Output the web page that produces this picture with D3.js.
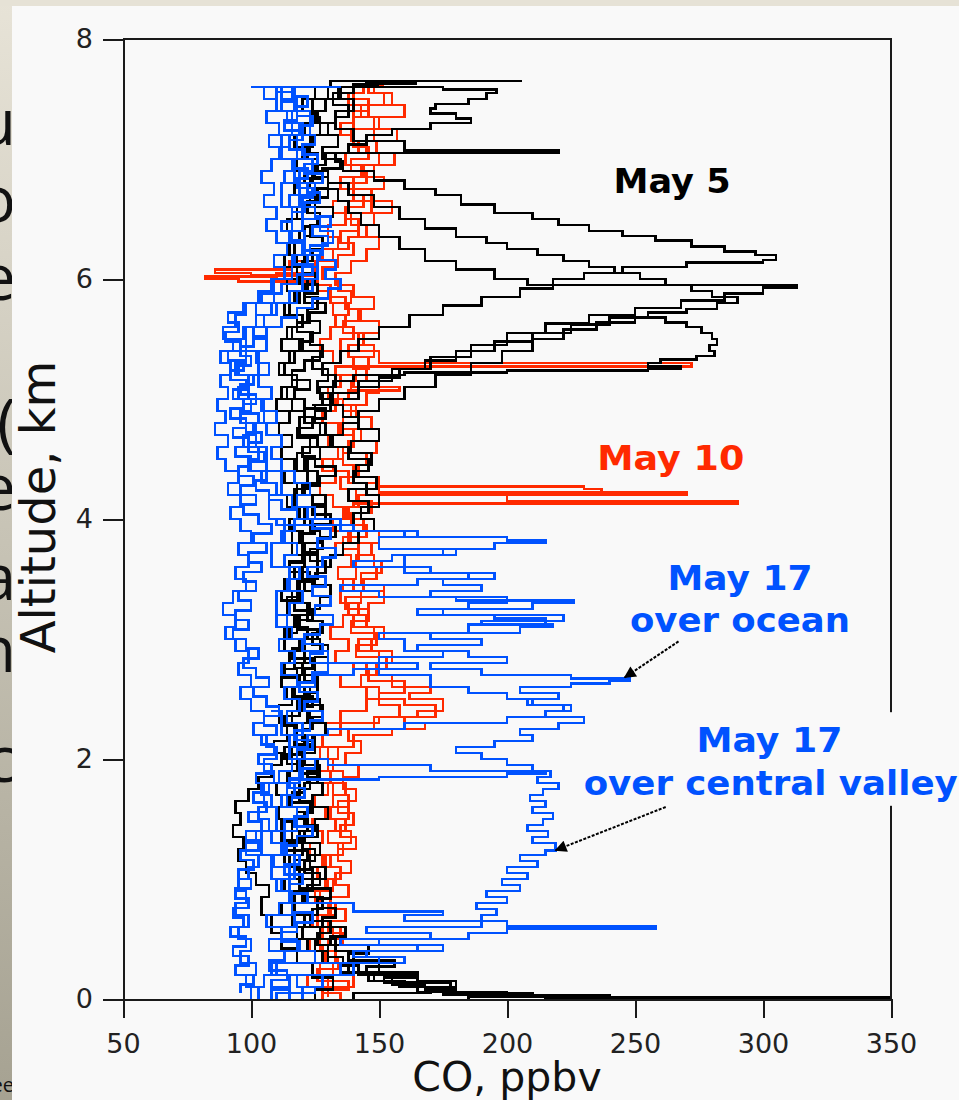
<!DOCTYPE html>
<html>
<head>
<meta charset="utf-8">
<script src="https://cdn.jsdelivr.net/npm/d3@7"></script>
<style>
  body { margin: 0; background: #e6e2d6; }
  svg { display: block; }
  .axis path, .axis line { stroke: #1a1a1a; stroke-width: 2; shape-rendering: crispEdges; }
  .axis text { font-family: "DejaVu Sans", sans-serif; font-size: 27px; fill: #222; }
  .profile { fill: none; stroke-width: 2.6; stroke-linejoin: miter; shape-rendering: crispEdges; }
  .note { font-family: "DejaVu Sans", sans-serif; font-weight: bold; font-size: 34px; }
</style>
</head>
<body>
<svg width="959" height="1100"></svg>
<script>
// ---- data: CO profiles, each point is [altitude km, CO ppbv] ----
var xTicks = [50, 100, 150, 200, 250, 300, 350];
var yTicks = [0, 2, 4, 6, 8];

// May 5 (black)
var may5_a = [[0.00,350],[0.015,240],[0.03,190],[0.06,172],[0.1,160],[0.15,146],[0.22,135],[0.3,128],[0.4,122],[0.5,118],[0.6,123],[0.7,117],[0.8,121],[0.9,115],[1.0,119],[1.1,113],[1.2,117],[1.3,112],[1.4,116],[1.5,111],[1.6,115],[1.7,110],[1.8,114],[1.9,118],[2.0,113],[2.1,117],[2.2,112],[2.3,116],[2.4,120],[2.5,114],[2.6,118],[2.7,113],[2.8,117],[2.9,121],[3.0,115],[3.1,119],[3.2,114],[3.3,118],[3.4,113],[3.5,117],[3.6,121],[3.7,116],[3.8,120],[3.9,115],[4.0,119],[4.1,114],[4.2,118],[4.3,113],[4.4,117],[4.5,112],[4.6,116],[4.7,111],[4.8,115],[4.9,110],[5.0,114],[5.1,118],[5.2,113],[5.3,117],[5.4,112],[5.5,116],[5.6,120],[5.7,115],[5.8,119],[5.9,114],[6.0,118],[6.1,113],[6.2,117],[6.3,121],[6.4,116],[6.5,120],[6.6,115],[6.7,119],[6.8,124],[6.9,118],[7.0,122],[7.1,117],[7.2,121],[7.3,126],[7.4,120],[7.5,125],[7.6,131],[7.65,136],[7.65,206]];
var may5_b = [[0.0,237],[0.02,210],[0.05,180],[0.08,168],[0.12,155],[0.2,142],[0.28,136],[0.35,130],[0.45,126],[0.55,131],[0.65,124],[0.75,128],[0.85,122],[0.95,127],[1.05,121],[1.15,125],[1.25,120],[1.35,126],[1.45,121],[1.55,124],[1.65,119],[1.75,123],[1.85,127],[1.95,121],[2.05,125],[2.15,120],[2.25,124],[2.35,128],[2.45,122],[2.55,126],[2.65,121],[2.75,125],[2.85,130],[2.95,124],[3.05,128],[3.15,122],[3.25,127],[3.35,131],[3.45,125],[3.55,129],[3.65,123],[3.75,128],[3.85,133],[3.95,140],[4.05,146],[4.15,138],[4.25,149],[4.35,141],[4.45,147],[4.55,139],[4.65,150],[4.75,142],[4.85,136],[4.95,131],[5.05,126],[5.15,130],[5.25,124],[5.35,128],[5.45,123],[5.55,127],[5.65,122],[5.75,126],[5.85,121],[5.95,125],[6.05,120],[6.15,124],[6.25,128],[6.35,123],[6.45,127],[6.55,122],[6.65,126],[6.75,130],[6.85,125],[6.95,129],[7.05,131],[7.05,220],[7.07,160],[7.15,140],[7.25,133],[7.35,138],[7.45,132],[7.55,140],[7.62,150]];
var may5_c = [[0.0,125],[0.08,132],[0.18,124],[0.3,118],[0.42,112],[0.55,108],[0.7,104],[0.85,107],[0.95,102],[1.05,98],[1.15,95],[1.25,97],[1.35,93],[1.45,96],[1.55,94],[1.65,99],[1.75,103],[1.85,108],[1.95,112],[2.05,109],[2.15,114],[2.3,111],[2.45,116],[2.6,112],[2.75,117],[2.9,113],[3.05,118],[3.2,114],[3.35,119],[3.5,115],[3.65,120],[3.8,116],[3.95,121],[4.1,117],[4.25,122],[4.4,118],[4.55,123],[4.7,119],[4.85,125],[4.95,132],[5.05,142],[5.15,155],[5.25,170],[5.35,186],[5.45,200],[5.55,215],[5.63,232],[5.7,250],[5.76,268],[5.82,285],[5.88,300],[5.93,313],[5.95,300],[5.95,208],[6.0,195],[6.08,180],[6.15,168],[6.25,158],[6.35,150],[6.45,143],[6.55,138],[6.65,134],[6.75,130],[6.9,126],[7.05,123],[7.2,127],[7.35,124],[7.5,130],[7.6,135]];
var may5_d = [[7.62,140],[7.6,175],[7.58,196],[7.55,192],[7.5,185],[7.46,172],[7.42,170],[7.38,180],[7.34,186],[7.3,170],[7.25,155],[7.2,145],[7.12,138],[7.05,133],[6.98,136],[6.9,148],[6.82,160],[6.75,172],[6.7,182],[6.62,195],[6.55,210],[6.5,220],[6.45,232],[6.4,245],[6.36,258],[6.32,272],[6.27,285],[6.23,297],[6.2,305],[6.16,300],[6.14,270],[6.1,245],[6.05,230],[6.0,218],[5.92,205],[5.85,190],[5.78,175],[5.7,162],[5.6,150],[5.5,142],[5.4,135],[5.3,128],[5.2,133],[5.1,127],[5.0,131],[4.9,125],[4.8,129],[4.7,123],[4.6,127],[4.5,121],[4.4,126],[4.3,120],[4.2,124],[4.1,129],[4.0,123],[3.9,127],[3.8,121],[3.7,126],[3.6,120],[3.5,124],[3.4,119],[3.3,123],[3.2,118],[3.1,122],[3.0,127],[2.9,121],[2.8,125],[2.7,119],[2.6,123],[2.5,118],[2.4,122],[2.3,117],[2.2,121],[2.1,116],[2.0,120],[1.9,115],[1.8,119],[1.7,114],[1.6,118],[1.5,122],[1.4,116],[1.3,120],[1.2,115],[1.1,119],[1.0,113],[0.9,117],[0.8,112],[0.7,116],[0.6,120],[0.5,125],[0.4,130],[0.3,138],[0.22,148],[0.15,158],[0.1,165],[0.06,175],[0.04,185],[0.02,215],[0.01,350]];
var may5_e = [[4.4,122],[4.5,127],[4.6,131],[4.7,136],[4.8,142],[4.9,150],[5.0,160],[5.1,172],[5.2,186],[5.3,198],[5.4,210],[5.5,222],[5.58,235],[5.64,250],[5.68,262],[5.64,270],[5.6,276],[5.55,280],[5.5,282],[5.45,279],[5.4,281],[5.36,274],[5.33,260],[5.3,255],[5.27,268],[5.25,255],[5.24,200],[5.22,160],[5.2,140],[5.15,132],[5.05,128],[4.95,124]];
var may5_f = [[6.9,130],[6.8,138],[6.7,148],[6.6,158],[6.5,168],[6.42,180],[6.35,192],[6.3,200],[6.25,212],[6.2,222],[6.15,232],[6.1,242],[6.05,252],[6.0,262],[5.95,272],[5.9,280],[5.85,290],[5.8,282],[5.75,270],[5.72,255],[5.68,240],[5.62,225],[5.55,210],[5.48,195],[5.4,180],[5.32,168],[5.25,158],[5.18,150],[5.1,142],[5.0,136]];
var may5_g = [[0.0,140],[0.05,170],[0.1,180],[0.15,165],[0.2,150],[0.3,140],[0.4,133],[0.5,127],[0.6,121],[0.7,126],[0.8,120],[0.9,124],[1.0,129],[1.1,123],[1.2,127],[1.3,121],[1.4,125],[1.5,130],[1.6,124],[1.7,128],[1.8,122],[1.9,126],[2.0,120],[2.1,125],[2.2,129],[2.3,123],[2.4,127],[2.5,121],[2.6,126],[2.7,120],[2.8,115],[2.9,119],[3.0,113],[3.1,117],[3.2,122],[3.3,116],[3.4,121],[3.5,126],[3.6,131],[3.7,136],[3.8,142],[3.9,148],[4.0,143],[4.1,150],[4.2,145],[4.3,140],[4.4,146],[4.5,138],[4.6,132],[4.7,127],[4.8,121],[4.9,116],[5.0,112],[5.1,116],[5.2,111],[5.3,115],[5.4,120],[5.5,114],[5.6,118],[5.7,113],[5.8,117],[5.9,122],[6.0,116],[6.1,121],[6.2,115],[6.3,119],[6.4,114],[6.5,118],[6.6,123],[6.7,117],[6.8,121],[6.9,126],[7.0,120],[7.1,124],[7.2,130],[7.3,125],[7.4,129],[7.5,135],[7.6,145],[7.63,165]];
var may5_h = [[0.0,185],[0.03,200],[0.06,170],[0.1,178],[0.14,152],[0.18,165],[0.22,145],[0.27,156],[0.32,138],[0.38,146],[0.45,131],[0.52,137],[0.6,128],[0.68,133],[0.76,126],[0.84,131],[0.92,119],[1.0,124],[1.08,117],[1.16,122],[1.24,114],[1.32,119],[1.4,112],[1.48,118],[1.56,123],[1.64,116],[1.72,121],[1.8,126],[1.88,119],[1.96,114],[2.04,119],[2.12,124],[2.2,118],[2.28,113],[2.36,119],[2.44,124],[2.52,117],[2.6,112],[2.68,118],[2.76,124],[2.84,116],[2.92,121],[3.0,126],[3.08,119],[3.16,124],[3.24,117],[3.32,112],[3.4,118],[3.48,123],[3.56,115],[3.64,121],[3.72,126],[3.8,119],[3.88,125],[3.96,131],[4.04,124],[4.12,129],[4.2,121],[4.28,127],[4.36,133],[4.44,125],[4.52,120],[4.6,126],[4.68,118],[4.76,124],[4.84,129],[4.92,121],[5.0,117],[5.08,123],[5.16,116],[5.24,121],[5.32,127],[5.4,119],[5.48,124],[5.56,118],[5.64,123],[5.72,129],[5.8,121],[5.88,126],[5.96,119],[6.04,124],[6.12,118],[6.2,123],[6.28,128],[6.36,121],[6.44,126],[6.52,132],[6.6,125],[6.68,130],[6.76,123],[6.84,128],[6.92,135],[7.0,128],[7.1,134],[7.2,127],[7.3,133],[7.4,140],[7.5,134],[7.6,141]];

// May 10 (red)
var may10_a = [[0.0,135],[0.05,128],[0.1,140],[0.2,132],[0.3,138],[0.4,130],[0.5,135],[0.6,128],[0.7,133],[0.8,127],[0.9,132],[1.0,126],[1.1,131],[1.2,136],[1.3,130],[1.4,137],[1.5,131],[1.6,138],[1.7,132],[1.8,136],[1.9,130],[2.0,134],[2.1,128],[2.2,135],[2.3,150],[2.35,165],[2.4,172],[2.45,160],[2.5,145],[2.6,135],[2.7,140],[2.8,133],[2.9,138],[3.0,131],[3.1,136],[3.2,142],[3.3,135],[3.4,140],[3.5,134],[3.6,139],[3.7,133],[3.8,138],[3.9,132],[4.0,137],[4.1,140],[4.13,290],[4.15,200],[4.2,270],[4.22,150],[4.3,138],[4.4,132],[4.5,136],[4.6,130],[4.7,134],[4.8,128],[4.9,133],[5.0,138],[5.07,158],[5.1,140],[5.2,133],[5.27,272],[5.3,150],[5.4,135],[5.5,140],[5.6,133],[5.7,138],[5.8,131],[5.9,126],[5.98,95],[6.0,82],[6.02,110],[6.05,125],[6.15,132],[6.25,138],[6.35,145],[6.45,139],[6.55,147],[6.65,140],[6.75,152],[6.85,144],[6.95,150],[7.05,142],[7.15,148],[7.25,140],[7.35,146],[7.45,138],[7.55,144],[7.6,152]];
var may10_b = [[0.05,125],[0.1,130],[0.2,124],[0.3,129],[0.4,123],[0.5,128],[0.6,124],[0.7,130],[0.8,125],[0.9,129],[1.0,124],[1.1,128],[1.2,123],[1.3,128],[1.4,124],[1.5,129],[1.6,125],[1.7,130],[1.8,126],[1.9,132],[2.0,127],[2.1,140],[2.2,155],[2.25,168],[2.3,160],[2.35,172],[2.4,175],[2.5,162],[2.55,170],[2.6,155],[2.7,145],[2.8,150],[2.9,142],[3.0,148],[3.1,140],[3.2,146],[3.3,152],[3.4,144],[3.5,149],[3.6,141],[3.7,147],[3.8,139],[3.9,144],[4.0,136],[4.1,142],[4.2,237],[4.25,230],[4.27,150],[4.35,140],[4.45,145],[4.55,138],[4.65,143],[4.75,136],[4.85,141],[4.95,134],[5.05,139],[5.15,145],[5.25,140],[5.35,148],[5.45,142],[5.55,150],[5.65,143],[5.75,137],[5.85,131],[5.95,125],[6.03,100],[6.05,86],[6.08,115],[6.15,128],[6.25,134],[6.35,130],[6.45,137],[6.55,132],[6.65,140],[6.75,135],[6.85,143],[6.95,137],[7.05,145],[7.15,139],[7.25,150],[7.35,143],[7.45,155],[7.55,148],[7.62,152]];
var may10_c = [[0.0,128],[0.1,122],[0.2,127],[0.3,133],[0.4,127],[0.5,132],[0.6,126],[0.7,131],[0.8,125],[0.9,130],[1.0,135],[1.1,129],[1.2,134],[1.3,139],[1.4,133],[1.5,138],[1.6,132],[1.7,137],[1.8,131],[1.9,125],[2.0,130],[2.1,124],[2.2,129],[2.3,135],[2.4,145],[2.5,150],[2.6,143],[2.7,149],[2.8,155],[2.9,147],[3.0,152],[3.1,145],[3.2,138],[3.3,143],[3.4,136],[3.5,141],[3.6,148],[3.7,142],[3.8,150],[3.9,144],[4.0,138],[4.1,132],[4.2,127],[4.3,133],[4.4,128],[4.5,134],[4.6,140],[4.7,135],[4.8,142],[4.9,136],[5.0,130],[5.1,135],[5.2,128],[5.3,132],[5.4,127],[5.5,131],[5.6,137],[5.7,132],[5.8,139],[5.9,134],[6.0,128],[6.1,134],[6.2,140],[6.3,135],[6.4,142],[6.5,137],[6.6,144],[6.7,138],[6.8,145],[6.9,139],[7.0,146],[7.1,140],[7.2,135],[7.3,140],[7.4,146],[7.5,140],[7.6,135]];
var may10_d = [[0.02,130],[0.08,138],[0.15,126],[0.25,134],[0.35,128],[0.45,136],[0.55,130],[0.65,137],[0.75,131],[0.85,138],[0.95,133],[1.05,139],[1.15,134],[1.25,141],[1.35,135],[1.45,140],[1.55,134],[1.65,141],[1.75,136],[1.85,142],[1.95,137],[2.05,143],[2.15,138],[2.25,148],[2.35,158],[2.45,150],[2.55,160],[2.65,146],[2.75,153],[2.85,141],[2.95,149],[3.05,139],[3.15,146],[3.25,137],[3.35,152],[3.45,143],[3.55,151],[3.65,142],[3.75,136],[3.85,145],[3.95,139],[4.05,147],[4.15,141],[4.25,135],[4.35,142],[4.45,136],[4.55,149],[4.65,140],[4.75,147],[4.85,139],[4.95,145],[5.05,150],[5.15,141],[5.25,146],[5.35,138],[5.45,144],[5.55,136],[5.65,142],[5.75,148],[5.85,140],[5.95,133],[6.05,139],[6.15,145],[6.25,150],[6.35,142],[6.45,148],[6.55,155],[6.65,147],[6.75,140],[6.85,148],[6.95,156],[7.05,149],[7.15,157],[7.25,148],[7.35,160],[7.45,152],[7.55,146],[7.6,138]];

// May 17 (blue)
var may17_a = [[0.0,103],[0.1,98],[0.2,102],[0.3,96],[0.4,100],[0.5,95],[0.6,99],[0.7,94],[0.8,98],[0.9,95],[1.0,99],[1.1,103],[1.2,98],[1.3,102],[1.4,107],[1.5,103],[1.6,108],[1.7,104],[1.8,109],[1.9,105],[2.0,110],[2.1,106],[2.2,101],[2.3,105],[2.4,100],[2.5,96],[2.6,100],[2.7,95],[2.8,99],[2.9,94],[3.0,90],[3.1,94],[3.2,89],[3.3,93],[3.4,98],[3.5,94],[3.6,99],[3.7,95],[3.8,100],[3.9,96],[4.0,92],[4.1,96],[4.2,91],[4.3,95],[4.4,90],[4.5,87],[4.6,91],[4.7,86],[4.8,90],[4.9,87],[5.0,91],[5.1,88],[5.2,92],[5.3,88],[5.4,93],[5.5,89],[5.6,94],[5.7,98],[5.8,103],[5.9,108],[6.0,113],[6.1,109],[6.2,114],[6.3,110],[6.4,106],[6.5,110],[6.6,105],[6.7,109],[6.8,104],[6.9,108],[7.0,112],[7.1,107],[7.2,111],[7.3,106],[7.4,110],[7.5,105],[7.6,100],[7.6,135]];
var may17_b = [[0.0,110],[0.05,125],[0.1,118],[0.2,108],[0.3,113],[0.4,107],[0.5,112],[0.6,106],[0.7,111],[0.8,116],[0.9,110],[1.0,115],[1.1,109],[1.2,114],[1.3,108],[1.4,113],[1.5,118],[1.6,112],[1.7,117],[1.8,111],[1.9,116],[2.0,121],[2.1,115],[2.2,120],[2.3,114],[2.4,119],[2.5,113],[2.6,118],[2.7,112],[2.8,117],[2.9,111],[3.0,116],[3.1,110],[3.2,115],[3.3,120],[3.4,114],[3.5,119],[3.6,113],[3.7,118],[3.8,112],[3.9,117],[4.0,122],[4.1,116],[4.2,110],[4.3,104],[4.4,99],[4.5,103],[4.6,97],[4.7,101],[4.8,96],[4.9,100],[5.0,95],[5.1,99],[5.2,94],[5.3,98],[5.4,93],[5.5,97],[5.6,102],[5.7,108],[5.8,115],[5.9,120],[6.0,126],[6.1,122],[6.2,128],[6.3,132],[6.4,127],[6.5,120],[6.6,115],[6.7,119],[6.8,113],[6.9,117],[7.0,111],[7.1,115],[7.2,120],[7.3,114],[7.4,118],[7.5,112],[7.6,117]];
var may17_ocean = [[0.0,120],[0.1,128],[0.2,135],[0.3,125],[0.4,118],[0.5,112],[0.6,117],[0.7,111],[0.8,116],[0.9,112],[1.0,117],[1.2,113],[1.4,118],[1.6,114],[1.8,119],[2.0,115],[2.1,122],[2.2,130],[2.25,160],[2.3,200],[2.35,215],[2.4,222],[2.45,208],[2.5,220],[2.55,205],[2.6,225],[2.63,240],[2.65,248],[2.67,225],[2.7,190],[2.75,170],[2.8,200],[2.85,185],[2.9,160],[3.0,150],[3.05,205],[3.1,218],[3.12,190],[3.15,222],[3.2,175],[3.25,210],[3.3,226],[3.32,180],[3.35,150],[3.4,135],[3.45,165],[3.5,185],[3.55,160],[3.6,140],[3.65,155],[3.7,175],[3.75,195],[3.8,215],[3.82,200],[3.85,160],[3.9,135],[4.0,125],[4.1,118],[4.2,123],[4.3,117],[4.4,112],[4.5,108],[4.6,112],[4.7,106],[4.8,110],[4.9,104],[5.0,108],[5.1,103],[5.2,107],[5.3,102],[5.4,106],[5.5,101],[5.6,105],[5.7,110],[5.8,118],[5.9,124],[6.0,120],[6.1,126],[6.2,120],[6.3,115],[6.4,120],[6.5,125],[6.6,120],[6.7,125],[6.8,119],[6.9,124],[7.0,118],[7.2,123],[7.4,117],[7.6,125]];
var may17_valley = [[0.0,108],[0.1,115],[0.2,140],[0.3,160],[0.35,145],[0.4,175],[0.45,150],[0.5,185],[0.55,200],[0.59,258],[0.61,200],[0.65,190],[0.7,196],[0.75,188],[0.8,200],[0.85,192],[0.9,205],[0.95,198],[1.0,208],[1.05,200],[1.1,212],[1.15,205],[1.2,215],[1.24,219],[1.3,210],[1.35,216],[1.4,208],[1.45,214],[1.5,218],[1.55,210],[1.6,215],[1.65,209],[1.7,214],[1.75,220],[1.8,212],[1.85,217],[1.9,210],[1.95,200],[2.0,190],[2.05,180],[2.1,195],[2.15,210],[2.2,205],[2.25,220],[2.3,230],[2.35,215],[2.4,225],[2.45,210],[2.5,200],[2.55,185],[2.6,170],[2.7,150],[2.8,130],[2.9,120],[3.0,114],[3.2,110],[3.4,115],[3.6,108],[3.8,113],[4.0,107],[4.2,112],[4.4,106],[4.6,102],[4.8,105],[5.0,99],[5.2,103],[5.4,98],[5.6,102],[5.8,109],[6.0,116],[6.2,121],[6.4,116],[6.6,112],[6.8,117],[7.0,112],[7.2,116],[7.4,110],[7.6,113]];
var may17_e = [[4.0,110],[3.95,140],[3.9,165],[3.85,150],[3.75,180],[3.7,160],[3.6,170],[3.55,195],[3.5,175],[3.45,190],[3.4,170],[3.35,200],[3.3,185],[3.25,165],[3.2,195],[3.17,215],[3.12,185],[3.05,170],[3.0,190],[2.95,165],[2.9,175],[2.85,150],[2.8,165],[2.75,140],[2.7,125],[2.6,118]];
var may17_f = [[0.0,100],[0.1,105],[0.2,110],[0.3,150],[0.35,140],[0.4,165],[0.45,135],[0.5,170],[0.55,145],[0.6,190],[0.65,160],[0.7,175],[0.73,140],[0.8,115],[1.0,108],[1.2,104],[1.4,110],[1.6,105],[1.8,115],[1.83,150],[1.85,200],[1.88,215],[1.9,170],[1.95,130],[2.0,118],[2.2,112],[2.4,108]];
var may17_g = [[0.05,96],[0.12,101],[0.2,94],[0.28,99],[0.36,93],[0.44,98],[0.52,92],[0.6,97],[0.68,93],[0.76,99],[0.84,94],[0.92,100],[1.0,95],[1.08,101],[1.16,96],[1.24,103],[1.32,98],[1.4,104],[1.48,99],[1.56,106],[1.64,101],[1.72,107],[1.8,102],[1.88,108],[1.96,103],[2.04,109],[2.12,104],[2.2,110],[2.28,105],[2.36,111],[2.44,106],[2.52,101],[2.6,107],[2.68,102],[2.76,97],[2.84,103],[2.92,98],[3.0,93],[3.08,99],[3.16,94],[3.24,100],[3.32,95],[3.4,102],[3.48,97],[3.56,104],[3.64,99],[3.72,106],[3.8,101],[3.88,108],[3.96,103],[4.04,97],[4.12,102],[4.2,96],[4.28,101],[4.36,95],[4.44,100],[4.52,94],[4.6,99],[4.68,93],[4.76,98],[4.84,92],[4.92,97],[5.0,93],[5.08,98],[5.16,92],[5.24,97],[5.32,91],[5.4,96],[5.48,90],[5.56,95],[5.64,91],[5.72,97],[5.8,104],[5.88,112],[5.96,118],[6.04,124],[6.12,117],[6.2,123],[6.28,130],[6.36,124],[6.44,131],[6.52,125],[6.6,119],[6.68,124],[6.76,118],[6.84,122],[6.92,116],[7.0,121],[7.08,115],[7.16,120],[7.24,113],[7.32,118],[7.4,112],[7.48,117],[7.56,110],[7.6,105]];
var may17_h = [[0.0,115],[0.08,108],[0.16,114],[0.24,107],[0.32,113],[0.4,119],[0.48,112],[0.56,118],[0.64,124],[0.72,116],[0.8,122],[0.88,115],[0.96,120],[1.04,113],[1.12,119],[1.2,112],[1.28,118],[1.36,124],[1.44,117],[1.52,122],[1.6,116],[1.68,121],[1.76,115],[1.84,120],[1.92,125],[2.0,118],[2.08,124],[2.16,117],[2.24,123],[2.32,128],[2.4,121],[2.48,126],[2.56,119],[2.64,124],[2.72,130],[2.8,123],[2.88,128],[2.96,121],[3.04,127],[3.12,132],[3.2,125],[3.28,131],[3.36,124],[3.44,129],[3.52,122],[3.6,128],[3.68,133],[3.76,126],[3.84,131],[3.92,124],[4.0,118],[4.08,112],[4.16,107],[4.24,102],[4.32,106],[4.4,100],[4.48,105],[4.56,99],[4.64,104],[4.72,98],[4.8,103],[4.88,97],[4.96,102],[5.04,96],[5.12,101],[5.2,95],[5.28,100],[5.36,96],[5.44,101],[5.52,106],[5.6,112],[5.68,118],[5.76,124],[5.84,130],[5.92,135],[6.0,129],[6.08,133],[6.16,127],[6.24,121],[6.32,116],[6.4,112],[6.48,116],[6.56,121],[6.64,127],[6.72,122],[6.8,128],[6.88,121],[6.96,126],[7.04,120],[7.12,125],[7.2,119],[7.28,124],[7.36,118],[7.44,122],[7.52,116],[7.6,120]];

var series = [
  {date: 'May 10', color: '#ff2a00', profiles: [may10_a, may10_b, may10_c, may10_d]},
  {date: 'May 5', color: '#000000', profiles: [may5_a, may5_b, may5_c, may5_d, may5_e, may5_f, may5_g, may5_h]},
  {date: 'May 17', color: '#0052ff', profiles: [may17_a, may17_b, may17_ocean, may17_valley, may17_e, may17_f, may17_g, may17_h]}
];

// slide text that peeks out on the left edge
var slideLetters = ['u', 'o', 'e', '(', 'e', 'a', 'n', 'c'];

var svg = d3.select('svg');
var margin = {t: 39, r: 68, b: 101, l: 123};
var width = 959, height = 1100;

var x = d3.scaleLinear().domain([50, 350]).range([margin.l, width - margin.r]);
var y = d3.scaleLinear().domain([0, 8]).range([height - margin.b, margin.t]);

// slide background + white panel
var defs = svg.append('defs');
var grad = defs.append('linearGradient').attr('id', 'slide')
    .attr('x1', 0).attr('y1', 0).attr('x2', 0).attr('y2', 1);
grad.append('stop').attr('offset', '0%').attr('stop-color', '#e7e3d7');
grad.append('stop').attr('offset', '100%').attr('stop-color', '#a6a292');
svg.append('rect').attr('width', width).attr('height', height).attr('fill', 'url(#slide)');
svg.append('rect').attr('width', width).attr('height', 6).attr('fill', '#e6e2d6');

defs.append('clipPath').attr('id', 'strip')
  .append('rect').attr('width', 12).attr('height', height);
var strip = svg.append('g').attr('clip-path', 'url(#strip)')
    .style('font-family', '"Open Sans", sans-serif').style('font-size', '64px').attr('fill', '#111');
var letterY = [145, 222, 300, 445, 510, 600, 672, 782];
strip.selectAll('text').data(slideLetters).enter().append('text')
    .attr('x', 16).attr('y', (d, i) => letterY[i]).attr('text-anchor', 'end').text(d => d);
strip.append('text').attr('x', 14).attr('y', 1092).attr('text-anchor', 'end')
    .style('font-size', '20px').text('ee');

svg.append('rect').attr('x', 12).attr('y', 6).attr('width', width - 12).attr('height', height - 6)
    .attr('fill', '#f9f9f9');

// profiles, drawn as steps like the original instrument plot
var line = d3.line().curve(d3.curveStepBefore).x(d => x(d[1])).y(d => y(d[0]));
series.forEach(function(s) {
    svg.append('g').attr('class', 'date-group')
      .selectAll('path').data(s.profiles).enter().append('path')
        .attr('class', 'profile')
        .attr('d', line)
        .style('stroke', s.color);
});

// frame: top and right borders
svg.append('path')
    .attr('d', 'M' + x(50) + ',' + y(8) + 'H' + x(350) + 'V' + y(0))
    .attr('fill', 'none').attr('stroke', '#1a1a1a').attr('stroke-width', 2)
    .style('shape-rendering', 'crispEdges');

var xAxis = d3.axisBottom(x).tickValues(xTicks).tickSize(19).tickSizeOuter(0).tickPadding(16);
var yAxis = d3.axisLeft(y).tickValues(yTicks).tickSize(20).tickSizeOuter(0).tickPadding(10);
svg.append('g').attr('class', 'x axis').attr('transform', 'translate(0,' + y(0) + ')').call(xAxis);
svg.append('g').attr('class', 'y axis').attr('transform', 'translate(' + x(50) + ',0)').call(yAxis);

svg.append('text')
    .attr('x', x(200)).attr('y', 1091).attr('text-anchor', 'middle')
    .style('font-family', '"DejaVu Sans", sans-serif').style('font-size', '41px').attr('fill', '#111')
    .text('CO, ppbv');
svg.append('text')
    .attr('transform', 'translate(55,' + y(4.1) + ') rotate(-90)').attr('text-anchor', 'middle')
    .style('font-family', '"DejaVu Sans", sans-serif').style('font-size', '48px').attr('fill', '#111')
    .text('Altitude, km');

// annotations
var notes = [
    {text: 'May 5', co: 264.5, alt: 6.72, len: 117, color: '#000000'},
    {text: 'May 10', co: 264, alt: 4.41, len: 147, color: '#ff2a00'},
    {text: 'May 17', co: 291, alt: 3.41, len: 145, color: '#0052ff'},
    {text: 'over ocean', co: 291, alt: 3.06, len: 220, color: '#0052ff'},
    {text: 'May 17', co: 302.5, alt: 2.06, len: 146, color: '#0052ff'},
    {text: 'over central valley', co: 303, alt: 1.70, len: 374, color: '#0052ff'}
];
// the central valley label sits on a panel-coloured box that hides the right border
svg.append('rect')
    .attr('x', x(270)).attr('y', y(2.39)).attr('width', width - x(270)).attr('height', y(1.61) - y(2.39))
    .attr('fill', '#f9f9f9');
svg.selectAll('.note').data(notes).enter().append('text')
    .attr('class', 'note')
    .attr('x', d => x(d.co)).attr('y', d => y(d.alt))
    .attr('text-anchor', 'middle')
    .attr('textLength', d => d.len).attr('lengthAdjust', 'spacingAndGlyphs')
    .attr('fill', d => d.color)
    .text(d => d.text);

// arrows
defs.append('marker').attr('id', 'head')
    .attr('viewBox', '0 0 10 10').attr('refX', 9).attr('refY', 5)
    .attr('markerWidth', 7).attr('markerHeight', 6).attr('orient', 'auto')
  .append('path').attr('d', 'M0,0L10,5L0,10z').attr('fill', '#000');
var arrows = [
    {from: [267, 2.98], to: [246, 2.68]},
    {from: [262, 1.60], to: [219, 1.24]}
];
svg.selectAll('.arrow').data(arrows).enter().append('line')
    .attr('class', 'arrow')
    .attr('x1', d => x(d.from[0])).attr('y1', d => y(d.from[1]))
    .attr('x2', d => x(d.to[0])).attr('y2', d => y(d.to[1]))
    .attr('stroke', '#000').attr('stroke-width', 2).attr('stroke-dasharray', '3,1.5')
    .attr('marker-end', 'url(#head)');
</script>
</body>
</html>
